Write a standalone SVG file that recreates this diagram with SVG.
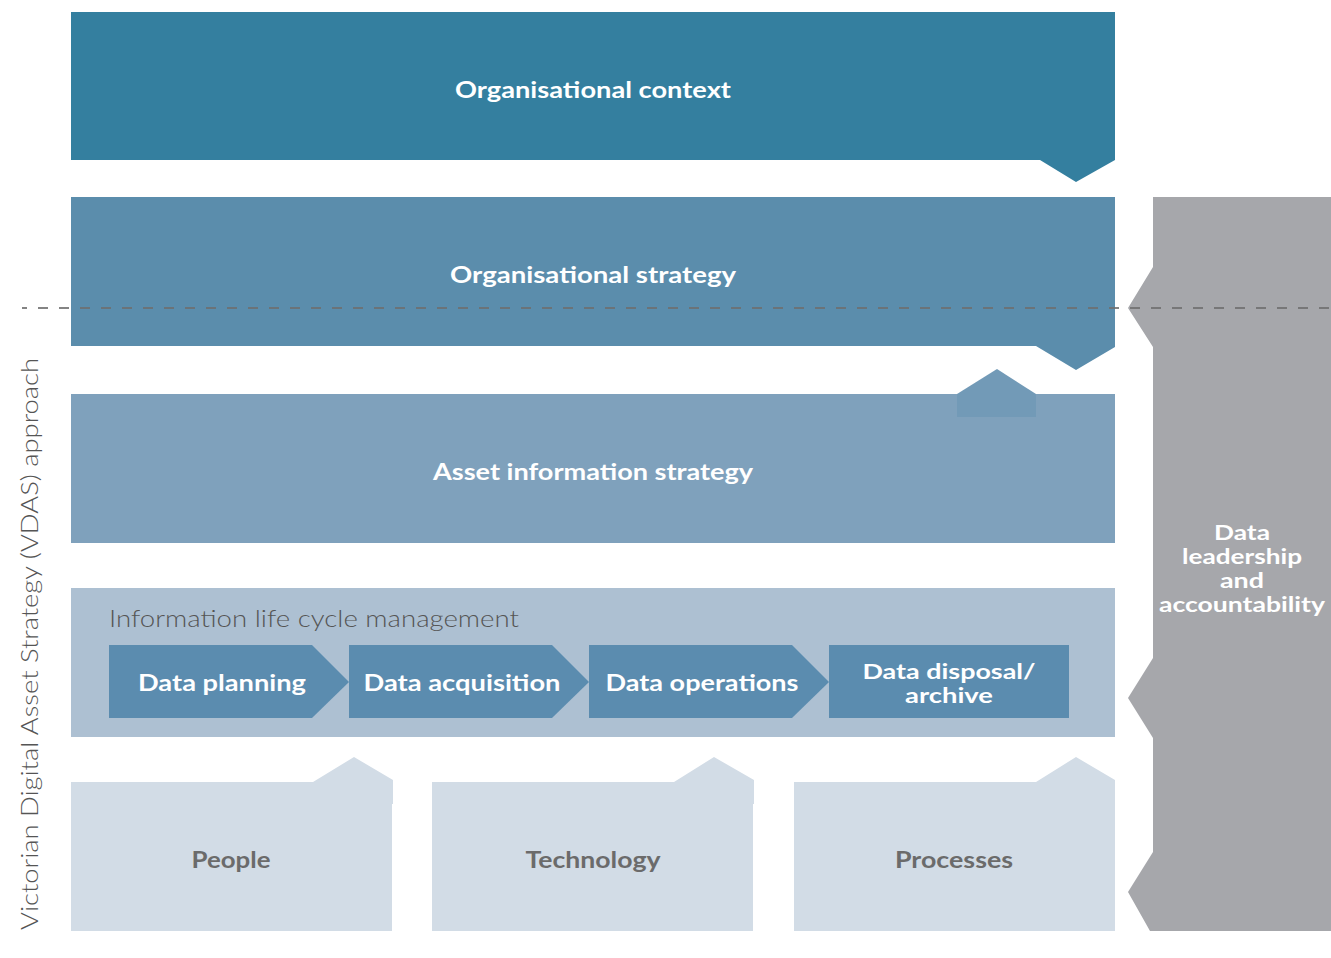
<svg xmlns="http://www.w3.org/2000/svg" width="1331" height="958" viewBox="0 0 1331 958">
<style>
.t{font-family:"Lato","Liberation Sans",sans-serif;font-weight:700;font-size:23px;fill:#fff;text-anchor:middle}
.s{font-size:21px}
.g{font-family:"Lato","Liberation Sans",sans-serif;font-weight:700;font-size:23px;fill:#6b6b6b;text-anchor:middle}
.l{font-family:"Lato","Liberation Sans",sans-serif;font-weight:300;font-size:23px;fill:#555}
.ch{fill:#5b8caf}
.bt{fill:#d2dce6}
</style>
<rect width="1331" height="958" fill="#fff"/>
<g id="org-context">
<polygon points="71,12 1115,12 1115,160 1076,182 1040,160 71,160" fill="#347f9f"/>
<text class="t" x="593" y="98" textLength="276" lengthAdjust="spacingAndGlyphs">Organisational context</text>
</g>
<g id="org-strategy">
<polygon points="71,197 1115,197 1115,347 1076,370 1036,346 71,346" fill="#5b8dac"/>
<text class="t" x="593" y="283" textLength="286" lengthAdjust="spacingAndGlyphs">Organisational strategy</text>
</g>
<g id="asset-info">
<rect x="71" y="394" width="1044" height="149" fill="#7fa1bc"/>
<polygon points="957,394 997,369 1036,394 1036,417 957,417" fill="#729ab7"/>
<text class="t" x="593" y="480" textLength="320" lengthAdjust="spacingAndGlyphs">Asset information strategy</text>
</g>
<g id="ilm">
<rect x="71" y="588" width="1044" height="149" fill="#adc0d2"/>
<text class="l" x="109" y="627" textLength="410" lengthAdjust="spacingAndGlyphs">Information life cycle management</text>
</g>
<g id="data-planning">
<polygon class="ch" points="109,645 312,645 349,682 312,718 109,718"/>
<text class="t" x="222" y="691" textLength="168" lengthAdjust="spacingAndGlyphs">Data planning</text>
</g>
<g id="data-acquisition">
<polygon class="ch" points="349,645 552,645 589,682 552,718 349,718"/>
<text class="t" x="462" y="691" textLength="197" lengthAdjust="spacingAndGlyphs">Data acquisition</text>
</g>
<g id="data-operations">
<polygon class="ch" points="589,645 792,645 829,682 792,718 589,718"/>
<text class="t" x="702" y="691" textLength="193" lengthAdjust="spacingAndGlyphs">Data operations</text>
</g>
<g id="data-disposal">
<rect class="ch" x="829" y="645" width="240" height="73"/>
<text class="t s" x="949" y="679" textLength="173" lengthAdjust="spacingAndGlyphs">Data disposal/</text>
<text class="t s" x="949" y="703" textLength="88" lengthAdjust="spacingAndGlyphs">archive</text>
</g>
<g id="people">
<polygon class="bt" points="71,782 313,782 354,757 393,780 393,804 392,804 392,931 71,931"/>
<text class="g" x="231" y="868" textLength="79" lengthAdjust="spacingAndGlyphs">People</text>
</g>
<g id="technology">
<polygon class="bt" points="432,782 674,782 714,757 754,780 754,804 753,804 753,931 432,931"/>
<text class="g" x="593" y="868" textLength="135" lengthAdjust="spacingAndGlyphs">Technology</text>
</g>
<g id="processes">
<polygon class="bt" points="794,782 1036,782 1076,757 1115,780 1115,931 794,931"/>
<text class="g" x="954" y="868" textLength="118" lengthAdjust="spacingAndGlyphs">Processes</text>
</g>
<g id="data-leadership">
<polygon points="1153,197 1331,197 1331,931 1150,931 1128,892 1153,852 1153,738 1128,698 1153,658 1153,347 1128,308 1153,267" fill="#a6a7ab"/>
<text class="t s" x="1242" y="540" textLength="56" lengthAdjust="spacingAndGlyphs">Data</text>
<text class="t s" x="1242" y="564" textLength="120" lengthAdjust="spacingAndGlyphs">leadership</text>
<text class="t s" x="1242" y="588" textLength="44" lengthAdjust="spacingAndGlyphs">and</text>
<text class="t s" x="1242" y="612" textLength="166" lengthAdjust="spacingAndGlyphs">accountability</text>
</g>
<g id="vdas-label">
<text class="l" transform="translate(38,644) rotate(-90)" x="0" y="0" text-anchor="middle" textLength="572" lengthAdjust="spacingAndGlyphs">Victorian Digital Asset Strategy (VDAS) approach</text>
</g>
<g id="connectors">
<line x1="22" y1="308" x2="1331" y2="308" stroke="#6e6e6e" stroke-opacity="0.85" stroke-width="2" stroke-dasharray="10 11" stroke-dashoffset="5"/>
</g>
</svg>
